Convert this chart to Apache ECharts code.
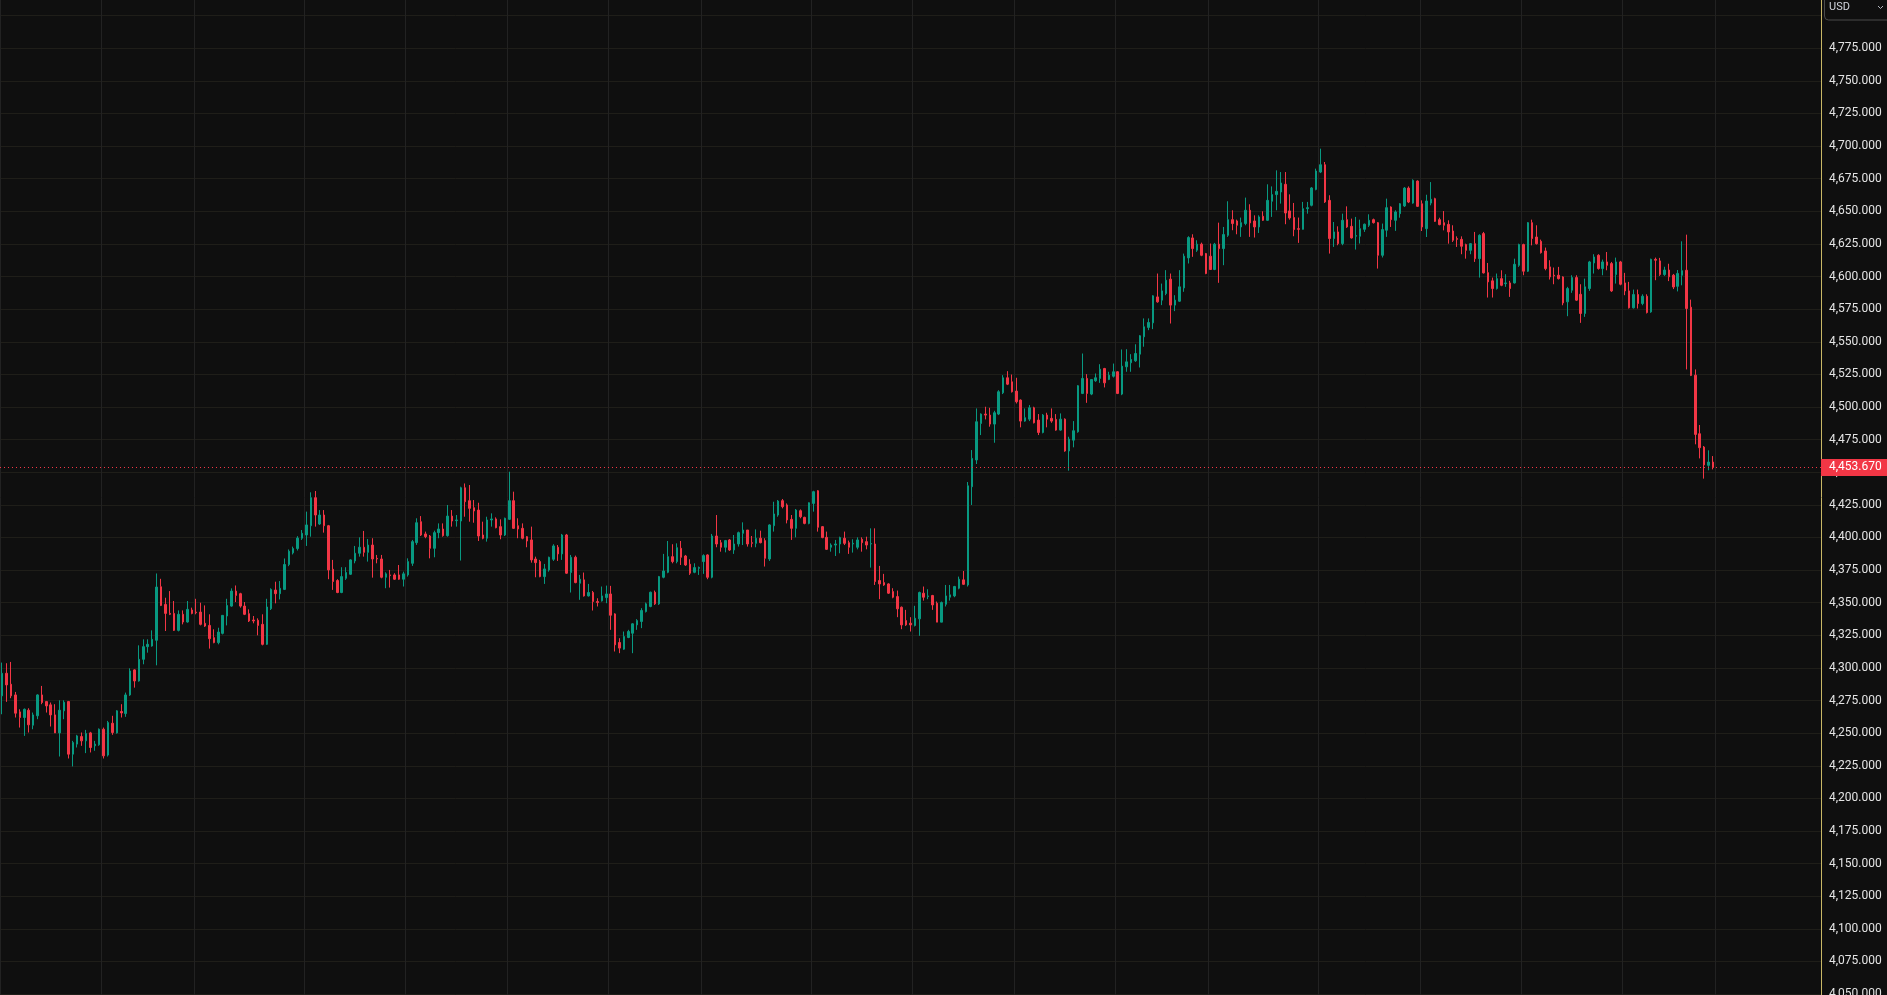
<!DOCTYPE html>
<html>
<head>
<meta charset="utf-8">
<style>
html,body{margin:0;padding:0;background:#0f0f0f;overflow:hidden}
#chart{width:1887px;height:995px}
</style>
<script src="https://cdn.jsdelivr.net/npm/echarts@6/dist/echarts.min.js"></script>
</head>
<body>
<div id="chart"></div>
<script>
// Hourly candles: [open, close, low, high]
const candles = [
[4278.6,4295.9,4264.5,4304.1],[4295.9,4287.0,4274.0,4303.6],[4287.5,4278.6,4276.8,4304.6],[4279.3,4265.3,4262.0,4281.6],
[4266.3,4262.0,4254.3,4268.3],[4262.0,4268.3,4247.9,4268.9],[4267.6,4256.4,4250.5,4269.1],[4256.1,4264.0,4253.0,4265.8],
[4263.3,4279.3,4260.7,4279.8],[4279.3,4273.5,4272.2,4286.2],[4274.2,4270.9,4265.8,4274.7],[4271.7,4264.0,4255.1,4273.5],
[4264.0,4250.2,4250.2,4272.2],[4250.2,4267.6,4232.1,4275.2],[4267.1,4273.7,4260.7,4275.2],[4274.2,4233.9,4230.6,4274.7],
[4233.9,4242.8,4224.5,4244.1],[4241.6,4247.9,4239.0,4248.7],[4247.4,4244.1,4240.3,4250.5],[4244.1,4249.7,4234.7,4252.5],
[4250.2,4239.0,4235.2,4251.0],[4240.3,4241.6,4236.5,4244.1],[4241.1,4253.0,4240.3,4253.6],[4253.0,4232.6,4230.6,4254.3],
[4233.2,4258.1,4232.1,4259.4],[4257.6,4250.5,4248.7,4263.3],[4250.2,4267.1,4249.7,4267.6],[4266.6,4265.5,4262.0,4272.2],
[4265.0,4279.3,4262.5,4281.1],[4279.3,4297.7,4278.6,4299.7],[4298.5,4290.0,4284.9,4299.0],[4290.0,4306.6,4289.5,4317.3],
[4306.6,4316.3,4302.8,4321.9],[4316.3,4318.1,4311.7,4321.9],[4316.8,4321.9,4316.3,4328.8],[4321.2,4362.0,4302.0,4372.4],
[4362.2,4347.9,4347.4,4368.3],[4348.7,4341.8,4328.3,4353.8],[4341.8,4341.1,4340.5,4358.9],[4341.8,4328.8,4328.3,4351.3],
[4328.8,4341.1,4328.0,4344.1],[4341.1,4335.2,4333.4,4344.1],[4335.2,4344.9,4334.7,4351.3],[4344.4,4341.8,4341.1,4346.2],
[4342.8,4342.3,4341.1,4353.0],[4342.8,4333.4,4332.6,4350.0],[4334.2,4332.1,4331.4,4347.9],[4332.6,4322.4,4314.8,4341.1],
[4323.2,4319.4,4318.9,4329.6],[4319.4,4327.5,4318.1,4330.8],[4326.5,4340.3,4325.7,4340.5],[4339.8,4347.9,4332.6,4353.0],
[4347.4,4358.9,4346.9,4361.0],[4358.9,4355.6,4350.5,4363.2],[4356.9,4347.4,4346.2,4357.6],[4347.4,4341.1,4340.5,4350.5],
[4341.6,4336.0,4335.2,4344.9],[4336.7,4336.0,4334.2,4339.8],[4336.5,4332.6,4325.0,4338.0],[4333.4,4318.1,4317.3,4341.1],
[4318.1,4346.7,4317.6,4353.0],[4345.4,4360.2,4344.4,4361.0],[4359.7,4356.9,4349.5,4366.1],[4356.9,4361.0,4352.5,4366.6],
[4360.2,4379.3,4359.7,4383.9],[4379.3,4389.5,4378.0,4390.8],[4388.2,4391.5,4387.0,4393.0],[4391.5,4399.5,4390.0,4401.0],
[4399.4,4403.2,4398.1,4405.7],[4401.9,4409.6,4393.5,4419.8],[4409.0,4430.5,4400.6,4434.6],[4430.5,4417.2,4408.3,4435.6],
[4410.3,4417.2,4409.6,4421.0],[4417.2,4409.0,4403.7,4421.0],[4409.0,4375.1,4368.0,4409.6],[4375.6,4366.2,4359.8,4382.8],
[4367.0,4357.8,4357.3,4368.0],[4357.8,4370.0,4357.3,4377.2],[4368.7,4373.1,4367.5,4377.2],[4371.8,4382.8,4371.3,4383.3],
[4382.0,4387.9,4380.2,4393.5],[4387.9,4392.5,4385.3,4400.1],[4392.5,4388.6,4385.3,4405.0],[4388.6,4394.2,4381.5,4398.8],
[4394.2,4383.5,4369.2,4399.4],[4384.0,4383.5,4380.2,4386.6],[4383.5,4369.5,4368.7,4386.6],[4369.5,4372.1,4361.1,4373.3],
[4371.3,4370.8,4361.6,4375.1],[4371.3,4368.0,4367.5,4372.6],[4371.3,4368.0,4367.5,4378.9],[4368.0,4372.1,4362.4,4373.8],
[4371.3,4381.5,4370.0,4384.0],[4380.2,4396.8,4378.2,4398.1],[4396.0,4411.3,4394.3,4414.7],[4412.1,4401.9,4401.1,4416.4],
[4402.7,4400.6,4399.4,4404.5],[4401.1,4391.7,4384.0,4401.9],[4391.7,4403.7,4384.8,4405.2],[4403.7,4406.5,4399.4,4410.8],
[4406.5,4401.4,4400.6,4410.8],[4401.4,4416.4,4400.6,4424.9],[4416.4,4412.6,4408.3,4421.0],[4412.9,4413.4,4408.3,4417.2],
[4412.6,4438.1,4382.3,4438.9],[4438.1,4427.4,4415.9,4441.4],[4428.2,4422.3,4412.1,4440.2],[4422.8,4420.3,4411.3,4428.7],
[4421.0,4401.1,4397.3,4426.6],[4401.9,4399.4,4398.6,4412.1],[4399.4,4413.4,4396.8,4415.9],[4413.4,4414.2,4408.3,4418.5],
[4414.2,4407.5,4407.0,4415.4],[4408.3,4401.9,4398.6,4413.9],[4401.9,4414.7,4401.1,4415.2],[4413.9,4428.2,4413.4,4450.4],
[4428.2,4407.0,4406.5,4435.1],[4409.0,4406.5,4399.4,4414.7],[4407.0,4399.4,4398.6,4410.8],[4400.6,4397.3,4392.5,4401.1],
[4398.1,4382.8,4380.7,4408.3],[4383.5,4380.7,4369.5,4385.3],[4381.5,4370.0,4369.5,4382.8],[4370.0,4375.9,4364.4,4379.7],
[4375.1,4384.8,4373.8,4385.3],[4383.3,4393.5,4382.0,4394.8],[4392.5,4387.4,4382.0,4394.2],[4387.4,4401.9,4382.8,4402.7],
[4401.9,4372.6,4372.1,4402.7],[4373.1,4384.8,4357.8,4386.6],[4384.8,4365.4,4364.9,4386.1],[4364.9,4368.0,4352.2,4371.3],
[4367.5,4355.2,4354.7,4373.1],[4355.2,4357.8,4354.7,4364.4],[4357.8,4350.9,4344.0,4359.0],[4350.9,4350.1,4347.1,4353.4],
[4351.4,4355.2,4350.9,4362.4],[4353.9,4356.7,4349.6,4363.1],[4356.7,4340.4,4329.2,4362.9],[4341.4,4317.7,4312.6,4341.9],
[4319.5,4315.2,4311.3,4322.8],[4314.4,4324.1,4313.9,4327.9],[4323.3,4327.9,4322.8,4329.2],[4326.6,4333.8,4311.3,4334.3],
[4333.0,4336.3,4329.2,4337.4],[4335.6,4344.0,4330.5,4345.8],[4343.2,4349.1,4342.5,4350.1],[4347.1,4358.0,4346.5,4358.5],
[4358.0,4349.1,4348.3,4359.3],[4349.1,4370.0,4348.3,4370.5],[4369.5,4374.3,4368.7,4387.4],[4373.3,4385.3,4372.6,4397.3],
[4385.3,4381.5,4380.2,4394.8],[4381.5,4392.2,4380.2,4395.5],[4391.7,4384.8,4378.9,4397.3],[4385.8,4378.9,4378.2,4386.6],
[4379.5,4372.6,4371.3,4383.3],[4373.3,4376.9,4372.6,4380.2],[4376.4,4376.9,4371.3,4377.7],[4381.5,4386.1,4372.1,4387.1],
[4386.6,4369.5,4368.0,4387.1],[4369.5,4401.1,4368.7,4402.7],[4401.1,4395.0,4392.5,4417.2],[4396.0,4392.5,4389.1,4398.1],
[4392.5,4397.6,4388.6,4398.1],[4398.1,4390.4,4389.7,4398.8],[4390.4,4395.0,4387.4,4401.9],[4395.0,4403.7,4393.0,4404.5],
[4403.2,4405.7,4394.2,4411.6],[4405.7,4395.0,4393.0,4405.7],[4396.0,4395.5,4392.5,4401.1],[4395.5,4399.4,4392.5,4406.2],
[4399.4,4396.0,4395.5,4405.2],[4397.6,4384.0,4377.7,4399.4],[4383.5,4409.6,4382.0,4410.1],[4409.0,4418.0,4404.5,4427.4],
[4417.2,4427.9,4415.9,4428.7],[4428.2,4423.6,4422.3,4429.5],[4424.9,4413.4,4410.8,4426.1],[4413.9,4407.0,4398.1,4417.2],
[4407.0,4421.0,4400.1,4421.8],[4420.5,4415.9,4414.7,4421.5],[4415.4,4410.8,4410.1,4415.9],[4410.8,4426.6,4410.1,4426.9],
[4426.1,4435.1,4419.8,4435.8],[4435.8,4407.8,4404.5,4436.3],[4408.3,4399.9,4399.4,4408.8],[4400.1,4390.9,4390.4,4404.5],
[4392.5,4394.2,4389.1,4395.5],[4394.2,4395.0,4385.8,4398.1],[4395.0,4399.9,4387.9,4400.6],[4399.4,4395.5,4394.2,4404.5],
[4396.0,4392.5,4387.4,4397.6],[4395.0,4395.5,4388.4,4398.6],[4392.5,4398.1,4390.9,4400.1],[4398.6,4396.0,4389.1,4400.1],
[4396.8,4394.2,4390.9,4400.6],[4395.0,4395.3,4376.9,4407.0],[4395.0,4366.2,4363.6,4407.0],[4367.0,4364.4,4352.7,4378.2],
[4365.4,4363.6,4362.9,4372.1],[4364.4,4357.3,4356.7,4364.9],[4358.5,4354.2,4353.4,4361.1],[4354.7,4345.3,4338.9,4359.3],
[4346.5,4333.0,4329.7,4347.1],[4336.3,4333.0,4332.2,4344.5],[4334.3,4333.0,4327.9,4338.9],[4332.5,4338.1,4331.8,4347.6],
[4337.6,4357.8,4324.6,4358.5],[4357.3,4354.2,4351.6,4362.4],[4354.7,4355.2,4352.7,4360.3],[4355.5,4348.3,4344.5,4356.0],
[4349.6,4335.1,4335.1,4350.9],[4335.1,4350.1,4335.1,4350.9],[4348.8,4355.2,4347.1,4363.6],[4354.2,4356.0,4351.6,4363.6],
[4355.2,4362.4,4354.2,4362.9],[4361.1,4368.0,4360.3,4370.0],[4367.5,4364.1,4363.6,4374.3],[4363.6,4439.6,4362.4,4442.5],
[4438.9,4460.6,4424.9,4467.0],[4459.4,4488.7,4456.3,4498.9],[4487.4,4494.6,4478.5,4495.1],[4494.6,4493.8,4490.5,4500.2],
[4493.8,4486.9,4484.9,4499.4],[4486.9,4495.6,4472.6,4497.1],[4494.6,4511.7,4493.8,4512.9],[4510.9,4522.4,4509.9,4524.4],
[4522.4,4517.5,4516.8,4527.5],[4519.3,4511.7,4511.1,4524.9],[4512.2,4504.0,4502.7,4522.4],[4505.3,4489.2,4484.4,4505.8],
[4489.2,4491.8,4488.7,4498.9],[4490.7,4499.4,4489.2,4501.5],[4499.4,4487.9,4487.4,4500.2],[4490.0,4480.5,4478.5,4494.6],
[4480.5,4493.8,4479.8,4494.6],[4493.8,4490.7,4484.4,4495.6],[4491.3,4489.2,4487.9,4498.9],[4490.5,4482.3,4481.8,4494.6],
[4482.3,4490.7,4481.8,4495.1],[4490.7,4466.3,4465.7,4491.3],[4466.3,4475.4,4451.2,4477.2],[4474.6,4481.8,4469.1,4489.2],
[4481.0,4516.3,4480.3,4516.8],[4510.4,4521.9,4509.9,4541.0],[4521.9,4510.4,4503.2,4525.2],[4509.9,4521.1,4509.1,4521.4],
[4520.1,4522.4,4519.3,4525.7],[4521.9,4529.0,4518.5,4532.8],[4529.5,4518.5,4515.0,4530.0],[4521.1,4524.4,4520.6,4527.0],
[4523.6,4527.0,4522.6,4533.3],[4527.0,4510.4,4509.9,4527.5],[4509.9,4531.3,4509.1,4544.1],[4530.8,4534.6,4527.0,4544.3],
[4533.9,4536.4,4527.0,4540.5],[4535.4,4541.0,4534.6,4548.1],[4540.5,4554.6,4530.3,4555.1],[4553.8,4561.5,4546.2,4567.9],
[4561.0,4564.8,4558.9,4567.9],[4564.5,4585.2,4559.7,4585.7],[4584.4,4580.6,4579.9,4602.3],[4581.9,4589.0,4578.1,4594.6],
[4587.0,4597.2,4585.7,4604.9],[4598.0,4578.1,4564.0,4602.3],[4578.1,4581.9,4573.5,4585.7],[4581.1,4592.1,4580.6,4604.9],
[4591.3,4615.6,4588.3,4617.6],[4614.3,4629.9,4610.0,4630.9],[4629.6,4621.4,4615.1,4632.4],[4620.2,4624.8,4618.9,4627.8],
[4624.8,4616.3,4615.6,4626.0],[4617.6,4602.3,4601.8,4618.1],[4615.6,4605.4,4605.4,4625.3],[4605.4,4624.8,4604.9,4625.8],
[4624.8,4621.4,4595.2,4641.3],[4621.4,4632.2,4608.7,4638.0],[4631.6,4643.6,4630.4,4657.7],[4643.6,4640.6,4635.5,4650.8],
[4642.6,4639.3,4632.4,4643.6],[4638.0,4641.3,4630.4,4645.2],[4640.6,4650.8,4639.3,4660.5],[4650.8,4641.1,4630.4,4655.4],
[4642.6,4638.0,4629.9,4646.9],[4638.0,4645.7,4633.4,4646.9],[4646.2,4643.1,4642.6,4650.0],[4643.1,4658.4,4642.6,4670.7],
[4657.7,4662.8,4645.7,4669.1],[4662.8,4665.3,4650.8,4681.4],[4664.8,4671.7,4655.9,4680.1],[4670.7,4648.7,4640.1,4680.1],
[4650.3,4644.9,4643.6,4663.0],[4645.2,4636.0,4630.9,4656.4],[4636.7,4636.2,4625.8,4645.2],[4636.2,4652.0,4636.0,4657.2],
[4652.0,4652.8,4648.2,4657.2],[4654.6,4667.9,4653.8,4668.6],[4666.8,4680.9,4666.1,4682.7],[4680.1,4685.7,4679.3,4698.0],
[4685.7,4657.2,4656.4,4687.8],[4658.4,4629.1,4617.6,4662.3],[4629.1,4634.2,4622.7,4641.8],[4634.2,4625.3,4624.0,4638.5],
[4625.3,4643.1,4624.0,4648.2],[4643.6,4638.0,4637.3,4653.8],[4638.5,4629.6,4629.1,4644.4],[4630.9,4631.4,4620.7,4645.7],
[4630.9,4636.7,4625.3,4643.6],[4636.2,4640.1,4634.2,4640.6],[4639.3,4643.1,4638.0,4647.7],[4643.6,4641.3,4640.6,4644.4],
[4641.3,4616.3,4606.1,4641.8],[4616.3,4636.0,4614.6,4640.6],[4635.5,4652.8,4630.4,4659.7],[4653.3,4643.6,4638.0,4653.8],
[4643.1,4649.5,4635.0,4650.8],[4648.2,4655.8,4645.1,4656.3],[4654.1,4667.8,4653.3,4668.6],[4667.8,4657.1,4656.3,4669.1],
[4656.3,4673.7,4655.8,4674.5],[4673.2,4653.8,4653.3,4673.7],[4655.8,4638.0,4634.9,4658.4],[4636.7,4657.9,4630.3,4662.7],
[4656.3,4659.2,4654.6,4672.4],[4659.7,4642.3,4641.8,4660.4],[4643.6,4639.8,4639.3,4645.1],[4641.3,4639.3,4635.4,4650.2],
[4640.0,4634.2,4625.2,4643.1],[4634.9,4627.8,4626.5,4639.3],[4629.1,4628.5,4622.7,4630.8],[4628.5,4623.2,4617.1,4630.8],
[4624.5,4620.1,4613.7,4625.2],[4620.1,4625.2,4617.1,4625.7],[4625.2,4613.7,4611.2,4634.2],[4613.7,4631.6,4599.2,4632.4],
[4632.9,4602.8,4602.3,4634.2],[4603.0,4595.9,4583.9,4610.4],[4596.7,4590.8,4583.9,4599.2],[4590.8,4598.4,4590.0,4602.3],
[4598.4,4593.3,4592.6,4604.8],[4594.6,4595.1,4592.1,4601.8],[4595.1,4590.8,4584.4,4596.7],[4595.1,4609.4,4594.6,4613.7],
[4608.6,4624.5,4607.4,4625.2],[4624.5,4604.1,4601.0,4625.2],[4604.1,4641.3,4603.5,4641.8],[4641.3,4629.1,4623.9,4643.6],
[4630.3,4625.2,4624.5,4639.3],[4627.0,4618.3,4617.6,4628.3],[4619.6,4606.1,4604.8,4622.2],[4607.4,4599.7,4597.7,4612.5],
[4601.0,4600.5,4594.1,4606.9],[4601.0,4598.4,4597.7,4607.4],[4599.7,4579.8,4578.0,4600.2],[4580.6,4590.8,4569.6,4592.1],
[4589.5,4599.2,4587.5,4601.0],[4599.2,4581.9,4581.3,4601.0],[4586.4,4571.7,4564.5,4594.1],[4571.7,4592.1,4569.1,4598.4],
[4590.8,4611.2,4589.0,4612.0],[4610.4,4615.0,4602.3,4617.1],[4616.3,4606.1,4605.3,4617.1],[4606.1,4611.2,4601.0,4613.0],
[4611.2,4608.6,4604.8,4618.8],[4609.9,4589.0,4588.2,4611.2],[4601.5,4611.2,4594.6,4614.5],[4611.2,4594.1,4593.3,4612.0],
[4595.1,4589.0,4585.7,4602.8],[4589.0,4576.0,4575.5,4595.9],[4576.0,4586.2,4575.5,4590.0],[4586.2,4579.3,4575.5,4590.0],
[4579.3,4584.9,4578.0,4586.4],[4584.9,4572.4,4571.7,4586.4],[4572.9,4613.2,4572.2,4613.7],[4613.2,4612.5,4597.2,4614.5],
[4612.0,4601.5,4600.5,4614.3],[4601.5,4605.0,4600.5,4607.5],[4605.0,4599.8,4596.5,4609.8],[4601.0,4592.0,4590.4,4602.0],
[4592.5,4602.4,4588.6,4605.0],[4601.0,4604.5,4593.3,4627.0],[4604.8,4575.5,4528.8,4632.1],[4576.5,4524.2,4523.7,4582.3],
[4524.4,4479.0,4471.4,4528.8],[4479.5,4468.8,4460.6,4486.2],[4469.3,4455.6,4445.1,4470.1],[4455.3,4457.8,4451.5,4466.8],
[4457.8,4453.67,4452.2,4462.4]
];
const lastPrice = 4453.67;
const slotCount = 413;            // candle slots across the plot (incl. empty right margin)
const dayStarts = [0, 23, 44, 69, 92, 115, 138, 159, 184, 207, 230, 253, 274, 299, 322, 345, 368, 389];
const priceMin = 4025, priceMax = 4825, priceStep = 25;
const hiddenAbove = 4790;         // labels under the currency button are not shown
const currency = 'USD';

const categories = Array.from({length: slotCount}, (_, i) => String(i));
const daySet = new Set(dayStarts);
function fmt(v) {
  const parts = Number(v).toFixed(3).split('.');
  return parts[0].replace(/\B(?=(\d{3})+(?!\d))/g, ',') + '.' + parts[1];
}

const chart = echarts.init(document.getElementById('chart'), null, {renderer: 'canvas'});
chart.setOption({
  animation: false,
  backgroundColor: '#0f0f0f',
  grid: {left: 0, right: 66, top: -17, bottom: -31.7, containLabel: false, outerBoundsMode: 'none'},
  xAxis: {
    type: 'category', data: categories, boundaryGap: true,
    axisLine: {show: false}, axisTick: {show: false}, axisLabel: {show: false},
    splitLine: {show: true, interval: (i) => daySet.has(i), lineStyle: {color: '#222222', width: 1}}
  },
  yAxis: {
    type: 'value', position: 'right', min: priceMin, max: priceMax, interval: priceStep,
    axisLine: {show: true, onZero: false, lineStyle: {color: '#c9b766', width: 1}},
    axisTick: {show: false},
    axisLabel: {margin: 8, color: '#e4e4e4', fontFamily: 'Roboto', fontSize: 12,
      formatter: (v) => (v > hiddenAbove ? '' : fmt(v))},
    splitLine: {show: true, lineStyle: {color: '#1f1e19', width: 1}}
  },
  series: [{
    type: 'candlestick',
    data: candles,
    barWidth: 2,
    itemStyle: {color: '#089981', color0: '#f23645', borderColor: '#089981', borderColor0: '#f23645', borderWidth: 1},
    emphasis: {disabled: true},
    markLine: {
      silent: true, symbol: ['none', 'none'], animation: false,
      data: [{yAxis: lastPrice}],
      lineStyle: {color: '#f23645', type: [1, 3], width: 1, opacity: 1},
      label: {
        show: true, position: 'end', distance: 0, formatter: () => fmt(lastPrice),
        color: '#ffffff', backgroundColor: '#f23645', padding: [3, 8, 2, 8],
        fontFamily: 'Roboto', fontSize: 12, lineHeight: 12
      },
      emphasis: {disabled: true}
    }
  }],
  graphic: [
    {type: 'rect', z: 100, shape: {x: 1824.5, y: -6.5, width: 70, height: 26.5, r: 4},
     style: {fill: '#0f0f0f', stroke: '#4a4a4a', lineWidth: 1}},
    {type: 'text', z: 101, x: 1829, y: 7.5,
     style: {text: currency, fill: '#d1d4dc', fontSize: 11, fontFamily: 'Roboto', verticalAlign: 'middle'}},
    {type: 'polyline', z: 101, shape: {points: [[1878, 6], [1880.5, 8.5], [1883, 6]]},
     style: {stroke: '#b2b5be', lineWidth: 1, fill: null}}
  ]
});
</script>
</body>
</html>
